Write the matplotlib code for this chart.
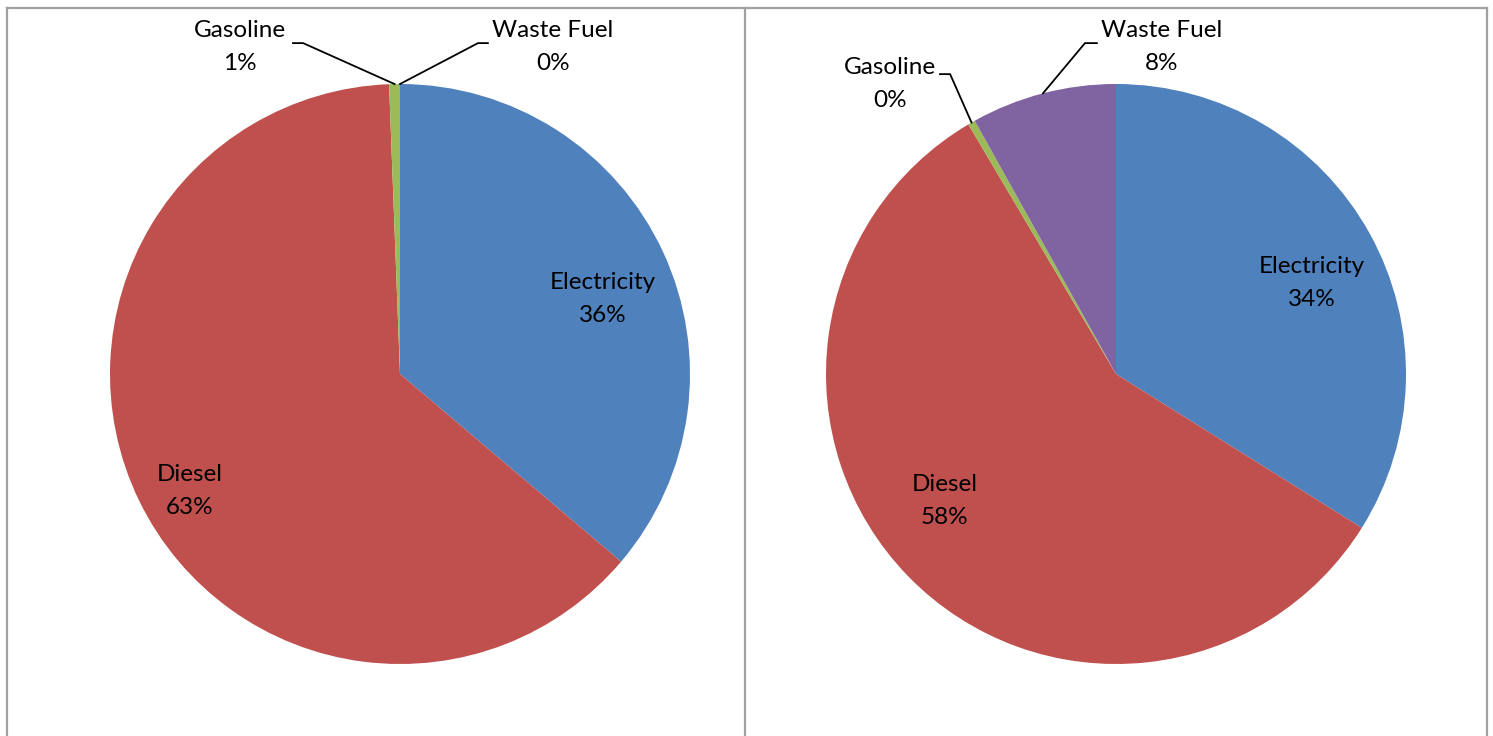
import matplotlib.pyplot as plt
import numpy as np
from matplotlib.lines import Line2D

# Fuel shares (%) for the two pies, clockwise from 12 o'clock
fuels = ['Electricity', 'Diesel', 'Gasoline', 'Waste Fuel']
left_share = [36.2, 63.2, 0.6, 0.0]
right_share = [33.9, 57.6, 0.4, 8.1]

colors = ['#4F81BD', '#C0504D', '#9BBB59', '#8064A2']

W, H = 1493, 736
R = 290  # pie radius in pixels

plt.rcParams['font.family'] = ['Lato', 'DejaVu Sans']

# label layout in pie units: text centre, and the elbow of the leader (None = inside label)
left_layout = {
    'Electricity': ((0.700, 0.259), None),
    'Diesel': ((-0.724, -0.403), None),
    'Gasoline': ((-0.552, 1.128), ((-0.369, 1.141), (-0.334, 1.141))),
    'Waste Fuel': ((0.528, 1.128), ((0.303, 1.141), (0.269, 1.141))),
}
right_layout = {
    'Electricity': ((0.676, 0.314), None),
    'Diesel': ((-0.590, -0.438), None),
    'Gasoline': ((-0.779, 1.000), ((-0.607, 1.034), (-0.572, 1.034))),
    'Waste Fuel': ((0.159, 1.128), ((-0.066, 1.141), (-0.107, 1.141))),
}


def draw_pie(fig, cx, cy, shares, layout):
    ax = fig.add_axes([(cx - R) / W, (H - cy - R) / H, 2 * R / W, 2 * R / H])
    wedges, _ = ax.pie(shares, colors=colors, startangle=90, counterclock=False,
                       radius=1, wedgeprops=dict(linewidth=0))
    ax.set_xlim(-1, 1)
    ax.set_ylim(-1, 1)
    ax.set_aspect('equal')
    ax.axis('off')

    for name, val, w in zip(fuels, shares, wedges):
        (tx, ty), elbow = layout[name]
        ax.text(tx, ty, f'{name}\n{val:.0f}%', ha='center', va='center',
                fontsize=17.5, linespacing=1.7, color='black', clip_on=False)
        if elbow is not None:
            mid = np.deg2rad((w.theta1 + w.theta2) / 2)
            px, py = np.cos(mid), np.sin(mid)
            xs = [elbow[0][0], elbow[1][0], px]
            ys = [elbow[0][1], elbow[1][1], py]
            ax.plot(xs, ys, color='black', lw=1.3, clip_on=False,
                    solid_joinstyle='miter')
    return ax


fig = plt.figure(figsize=(W / 100, H / 100), dpi=100)

draw_pie(fig, 400, 374, left_share, left_layout)
draw_pie(fig, 1116, 374, right_share, right_layout)

# table-style borders around the two charts
border = '#a0a0a0'
def fx(px):
    return px / W
def fy(py):
    return 1 - py / H

for x in (6.5, 745, 1487):
    fig.add_artist(Line2D([fx(x), fx(x)], [fy(8), 0], color=border, lw=1.6))
fig.add_artist(Line2D([fx(6.5), fx(1487)], [fy(8), fy(8)], color=border, lw=1.6))

fig.savefig('out.png', dpi=100)
